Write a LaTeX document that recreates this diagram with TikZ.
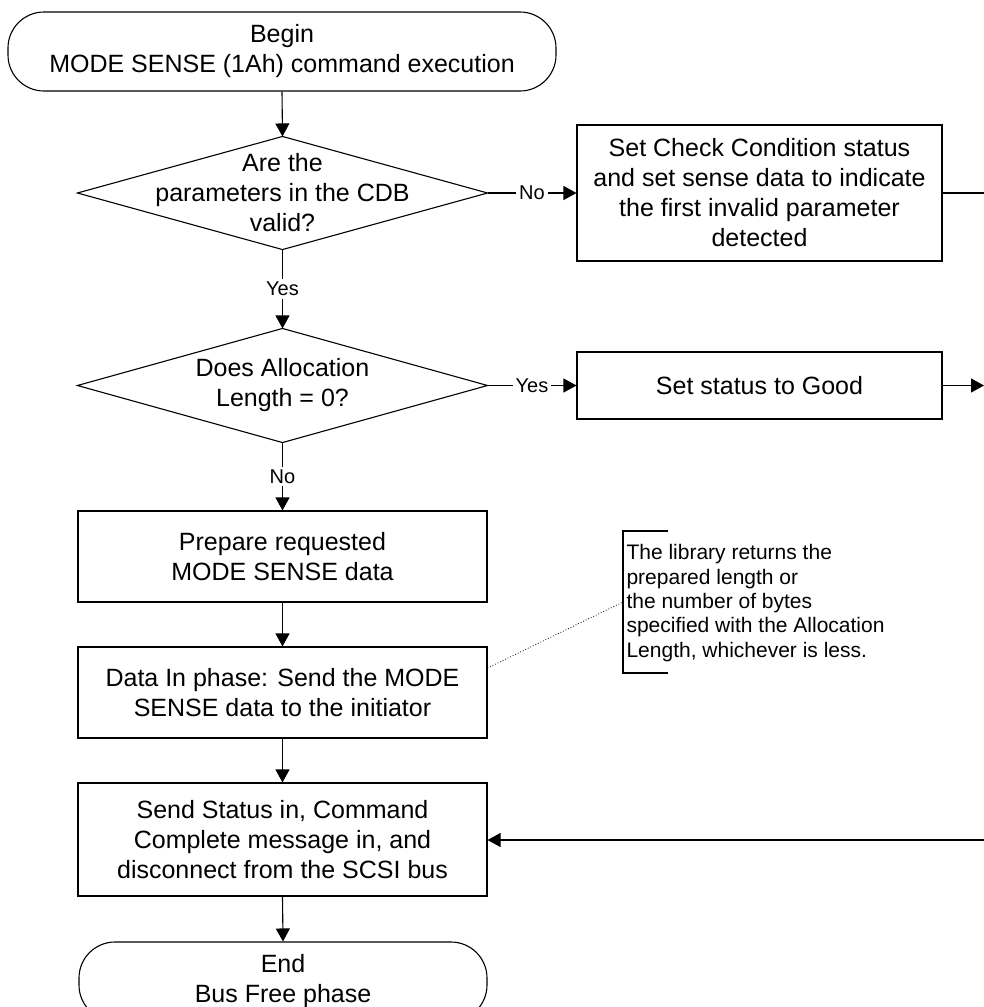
\documentclass[tikz,border=0pt]{standalone}
\usepackage{fontspec}
\setmainfont{Liberation Sans}
\usetikzlibrary{arrows.meta,calc}
\begin{document}
\begin{tikzpicture}[x=1pt,y=-1pt,
  line width=1.1pt,
  box/.style={draw, rectangle, inner sep=0pt, align=center,
    font=\fontsize{25}{30}\selectfont},
  term/.style={box, rounded corners=36pt},
  decision/.style={rectangle, inner sep=0pt, align=center,
    font=\fontsize{25}{30}\selectfont},
  flow/.style={-{Triangle[length=13pt,width=14pt]}},
  lbl/.style={fill=white, inner sep=3pt, font=\fontsize{20}{24}\selectfont},
  notetext/.style={inner sep=0pt, align=left, anchor=west,
    font=\fontsize{21}{24.3}\selectfont}]
\useasboundingbox (0,0) rectangle (984,1007);

\node[term, minimum width=548pt, minimum height=79pt] (begin) at (282,51.5)
  {Begin\\MODE SENSE (1Ah) command execution};

\node[decision, minimum width=409pt, minimum height=112pt] (d1) at (282.5,193)
  {Are the\\parameters in the CDB\\valid?};
\draw (d1.north) -- (d1.east) -- (d1.south) -- (d1.west) -- cycle;

\node[box, minimum width=365pt, minimum height=136pt] (check) at (759.5,193)
  {Set Check Condition status\\and set sense data to indicate\\the first invalid parameter\\detected};

\node[decision, minimum width=409pt, minimum height=113pt] (d2) at (282.5,385.5)
  {Does Allocation\\Length = 0?};
\draw (d2.north) -- (d2.east) -- (d2.south) -- (d2.west) -- cycle;

\node[box, minimum width=365pt, minimum height=67pt] (good) at (759.5,385.5)
  {Set status to Good};

\node[box, minimum width=409pt, minimum height=91pt] (prep) at (282.5,556.5)
  {Prepare requested\\MODE SENSE data};

\node[box, minimum width=409pt, minimum height=91pt] (datain) at (282.5,692.5)
  {Data In phase: Send the MODE\\SENSE data to the initiator};

\node[box, minimum width=409pt, minimum height=113pt] (send) at (282.5,839.5)
  {Send Status in, Command\\Complete message in, and\\disconnect from the SCSI bus};

\node[term, minimum width=408pt, minimum height=79pt] (end) at (283,981.5)
  {End\\Bus Free phase};

% note
\node[notetext] (note) at (626,603)
  {The library returns the\\prepared length or\\the number of bytes\\specified with the Allocation\\Length, whichever is less.};
\coordinate (nt) at (623,531);
\coordinate (nb) at (623,673);
\coordinate (nm) at (623,602);
\draw (668,531) -- (nt) -- (nb) -- (668,673);
\draw[dotted, line width=0.8pt] ($(datain.east)+(0,-24.5)$) -- (nm);

% free ends at the right edge
\coordinate (r1) at (984,193);
\coordinate (r2) at (984,385.5);
\coordinate (r3) at (984,840);

% connectors
\draw[flow] (begin.south) -- (d1.north);
\draw[flow] (d1.east) -- node[lbl] {No} (check.west);
\draw[flow] (d1.south) -- node[lbl] {Yes} (d2.north);
\draw[flow] (d2.east) -- node[lbl] {Yes} (good.west);
\draw[flow] (d2.south) -- node[lbl] {No} (prep.north);
\draw[flow] (prep.south) -- (datain.north);
\draw[flow] (datain.south) -- (send.north);
\draw[flow] (send.south) -- (end.north);
\draw (check.east) -- (r1);
\draw[flow] (good.east) -- (r2);
\draw[flow] (r3) -- (send.east |- r3);
\end{tikzpicture}
\end{document}
